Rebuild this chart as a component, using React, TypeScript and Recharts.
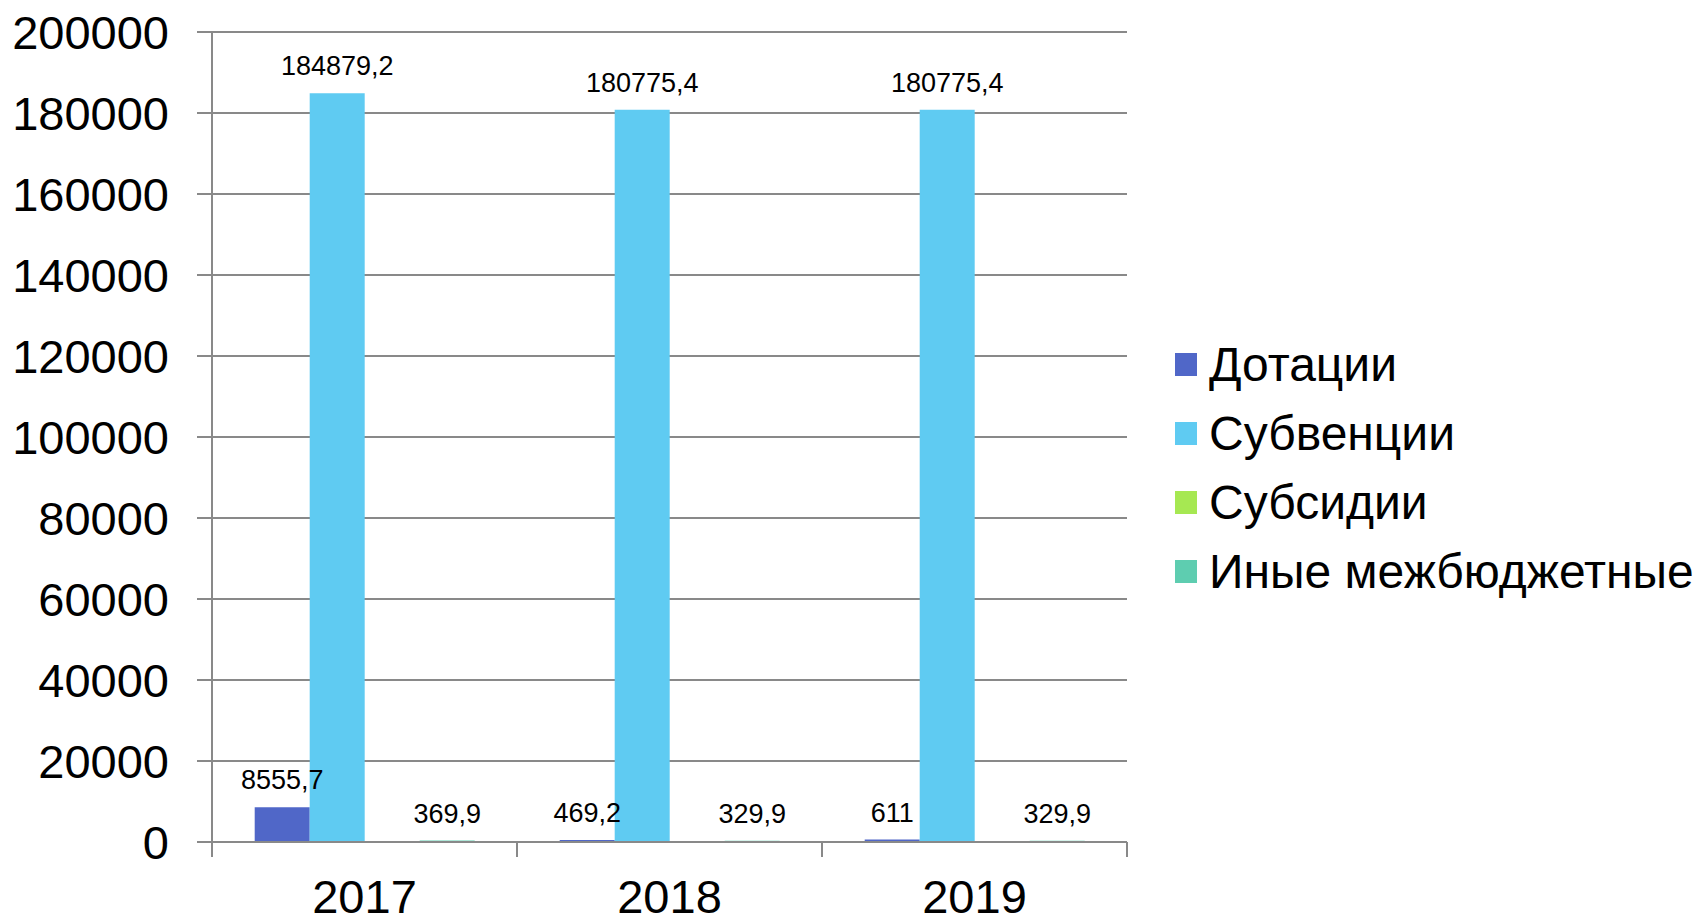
import { BarChart, Bar, XAxis, YAxis, CartesianGrid, Legend, LabelList } from 'recharts';

const years = ['2017', '2018', '2019'];
const dotacii = [8555.7, 469.2, 611];
const subvencii = [184879.2, 180775.4, 180775.4];
const subsidii: (number | null)[] = [null, null, null];
const inye = [369.9, 329.9, 329.9];
const yTicks = [0, 20000, 40000, 60000, 80000, 100000, 120000, 140000, 160000, 180000, 200000];

const series = [
  { key: 'dotacii', name: 'Дотации', color: '#5067C8' },
  { key: 'subvencii', name: 'Субвенции', color: '#5FCBF2' },
  { key: 'subsidii', name: 'Субсидии', color: '#A6E852' },
  { key: 'inye', name: 'Иные межбюджетные', color: '#5ECDB0' },
];

const data = years.map((year, i) => ({
  year,
  dotacii: dotacii[i],
  subvencii: subvencii[i],
  subsidii: subsidii[i],
  inye: inye[i],
}));

const FONT = '"Liberation Sans", Arial, sans-serif';
const WIDTH = 1698;
const HEIGHT = 919;
const MARGIN = { top: 32, right: 571, bottom: 17, left: 0 };
const Y_WIDTH = 212;
const BAND = (WIDTH - MARGIN.right - Y_WIDTH) / years.length;
const GRID = '#898989';

function formatValue(v: unknown) {
  if (v === null || v === undefined) return '';
  return String(v).replace('.', ',');
}

function YearTick(props: any) {
  const { x, y, payload, index } = props;
  const half = payload?.offset ?? BAND / 2;
  return (
    <g>
      <line x1={x - half} y1={y} x2={x - half} y2={y + 15} stroke={GRID} strokeWidth={2} />
      {index === years.length - 1 && (
        <line x1={x + half} y1={y} x2={x + half} y2={y + 15} stroke={GRID} strokeWidth={2} />
      )}
      <text x={x} y={y + 71} textAnchor="middle" fontSize={47} fontFamily={FONT} fill="#000">
        {payload.value}
      </text>
    </g>
  );
}

// legend keeps the series order (recharts would sort it by name)
function LegendList() {
  return (
    <div style={{ fontFamily: FONT, fontSize: 48, color: '#000' }}>
      {series.map((s) => (
        <div key={s.key} style={{ display: 'flex', alignItems: 'center', height: 69, whiteSpace: 'nowrap' }}>
          <span style={{ display: 'inline-block', width: 22, height: 23, background: s.color, marginRight: 12 }} />
          <span>{s.name}</span>
        </div>
      ))}
    </div>
  );
}

export default function App() {
  return (
    <div style={{ position: 'absolute', left: 0, top: 0, background: '#fff' }}>
      <BarChart
        width={WIDTH}
        height={HEIGHT}
        data={data}
        margin={MARGIN}
        barCategoryGap="14%"
        barGap={0}
      >
        <CartesianGrid vertical={false} stroke={GRID} strokeWidth={2} />
        <XAxis
          dataKey="year"
          height={60}
          axisLine={{ stroke: GRID, strokeWidth: 2 }}
          tickLine={false}
          tickSize={0}
          tickMargin={0}
          tick={<YearTick />}
          interval={0}
        />
        <YAxis
          width={Y_WIDTH}
          domain={[0, 200000]}
          ticks={yTicks}
          interval={0}
          axisLine={{ stroke: GRID, strokeWidth: 2 }}
          tickLine={{ stroke: GRID, strokeWidth: 2 }}
          tickSize={15}
          tickMargin={28}
          tick={{ fontSize: 47, fontFamily: FONT, fill: '#000' }}
        />
        <Legend
          layout="horizontal"
          align="center"
          verticalAlign="middle"
          content={<LegendList />}
          wrapperStyle={{ left: 1175, top: 330, width: 523 }}
        />
        {series.map((s) => (
          <Bar key={s.key} dataKey={s.key} name={s.name} fill={s.color} isAnimationActive={false}>
            <LabelList
              dataKey={s.key}
              position="top"
              offset={18}
              formatter={formatValue}
              style={{ fontSize: 27, fontFamily: FONT, fill: '#000' }}
            />
          </Bar>
        ))}
      </BarChart>
    </div>
  );
}
